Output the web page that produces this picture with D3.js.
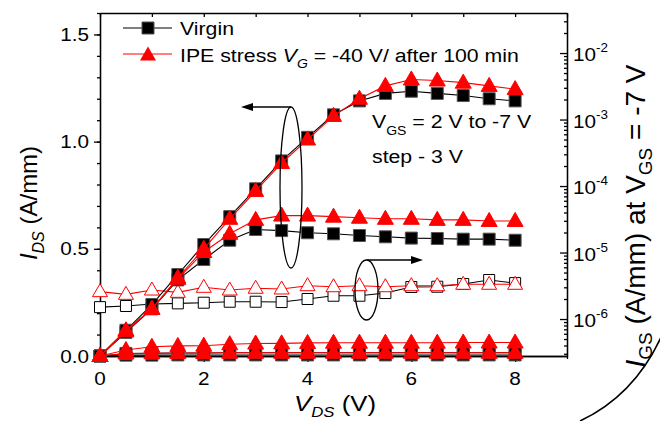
<!DOCTYPE html>
<html>
<head>
<meta charset="utf-8">
<script src="https://cdn.jsdelivr.net/npm/d3@7"></script>
<style>
body{margin:0;background:#fff;}
text{font-family:"Liberation Sans",Arial,sans-serif;fill:#000;}
</style>
</head>
<body>
<script>
var vds = [0,0.5,1,1.5,2,2.5,3,3.5,4,4.5,5,5.5,6,6.5,7,7.5,8];

// I_DS (A/mm) for V_GS = 2, -1, -4, -7 V
var virgin2  = [0,0.12,0.24,0.38,0.52,0.65,0.78,0.91,1.02,1.125,1.19,1.225,1.235,1.225,1.215,1.20,1.19];
var virginM1 = [0,0.11,0.22,0.355,0.45,0.54,0.59,0.585,0.575,0.57,0.562,0.556,0.55,0.548,0.545,0.545,0.54];
var virginM4 = [0,0.012,0.013,0.014,0.014,0.015,0.015,0.015,0.015,0.015,0.015,0.015,0.015,0.015,0.015,0.015,0.015];
var virginM7 = [0,0.004,0.004,0.005,0.005,0.005,0.005,0.005,0.005,0.005,0.005,0.005,0.005,0.005,0.005,0.005,0.005];
var ipe2  = [0,0.12,0.22,0.365,0.50,0.64,0.77,0.90,1.01,1.12,1.20,1.26,1.29,1.285,1.275,1.26,1.245];
var ipeM1 = [0,0.115,0.22,0.36,0.485,0.57,0.635,0.655,0.655,0.65,0.645,0.64,0.64,0.635,0.635,0.63,0.63];
var ipeM4 = [0,0.028,0.043,0.047,0.048,0.055,0.058,0.059,0.061,0.062,0.062,0.062,0.062,0.062,0.063,0.063,0.063];
var ipeM7 = [0,0.012,0.013,0.014,0.014,0.015,0.015,0.015,0.015,0.015,0.015,0.015,0.015,0.015,0.015,0.015,0.015];

// I_GS (A/mm) at V_GS = -7 V
var virginIgs = [1.51e-6,1.57e-6,1.68e-6,1.72e-6,1.76e-6,1.82e-6,1.82e-6,1.80e-6,2.0e-6,2.24e-6,2.24e-6,2.46e-6,3.03e-6,3.06e-6,3.36e-6,3.86e-6,3.47e-6];
var ipeIgs = [2.58e-6,2.35e-6,2.73e-6,2.52e-6,3.0e-6,2.73e-6,2.9e-6,2.83e-6,3.17e-6,3.06e-6,3.17e-6,3.06e-6,3.17e-6,3.17e-6,3.33e-6,3.33e-6,3.33e-6];

var leftTicks = [0,0.5,1.0,1.5];
var bottomTicks = [0,2,4,6,8];
var rightExp = [-6,-5,-4,-3,-2];

var width = 660, height = 421;
var sx = 1.12; // the text looks a bit wide in the picture

var x = d3.scaleLinear().domain([0,9]).range([100,567]);
var y = d3.scaleLinear().domain([0,1.6]).range([356,13]);
var yLog = d3.scaleLog().domain([2.78e-7,0.04]).range([356,13]);

var svg = d3.select("body").append("svg").attr("width",width).attr("height",height);

function htext(px, py, size, anchor){
  return svg.append("text")
    .attr("transform","translate("+px+","+py+") scale("+sx+",1)")
    .attr("font-size",size)
    .attr("text-anchor",anchor||"start");
}

// ---- axes ----
var minorY = d3.range(0,16).map(function(i){return i/10;}).concat([1.6]);
svg.append("g").attr("transform","translate(100,0)")
  .call(d3.axisLeft(y).tickValues(minorY).tickSize(3).tickSizeOuter(0).tickFormat(""));
svg.append("g").attr("transform","translate(100,0)")
  .call(d3.axisLeft(y).tickValues(leftTicks).tickSize(6).tickSizeOuter(0).tickFormat(""));

svg.append("g").attr("transform","translate(0,356)")
  .call(d3.axisBottom(x).tickValues([1,3,5,7,9]).tickSize(3).tickSizeOuter(0).tickFormat(""));
svg.append("g").attr("transform","translate(0,356)")
  .call(d3.axisBottom(x).tickValues(bottomTicks).tickSize(6).tickSizeOuter(0).tickFormat(""));

svg.append("g").attr("transform","translate(0,13)")
  .call(d3.axisTop(x).tickValues(d3.range(0,10)).tickSize(-4).tickSizeOuter(0).tickFormat(""));

var minorLog = [];
for (var e=-7;e<=-2;e++) for (var m=2;m<=9;m++){
  var v=m*Math.pow(10,e);
  if (v>2.78e-7 && v<0.04) minorLog.push(v);
}
svg.append("g").attr("transform","translate(567,0)")
  .call(d3.axisRight(yLog).tickValues(minorLog).tickSize(-3).tickSizeOuter(0).tickFormat(""));
svg.append("g").attr("transform","translate(567,0)")
  .call(d3.axisRight(yLog).tickValues(rightExp.map(function(e){return Math.pow(10,e);})).tickSize(-7).tickSizeOuter(0).tickFormat(""));

svg.selectAll(".domain, .tick line").attr("stroke","#000").attr("stroke-width",1.3);

// tick labels
leftTicks.forEach(function(t){
  htext(89, y(t)+6.5, 18.5, "end").text(d3.format(".1f")(t));
});
bottomTicks.forEach(function(t){
  htext(x(t), 385, 18.5, "middle").text(t);
});
rightExp.forEach(function(e){
  var t = htext(573, yLog(Math.pow(10,e))+8, 18.5, "start");
  t.append("tspan").text("10");
  t.append("tspan").attr("font-size",12).attr("dy",-9).text(e);
});

// axis titles
var bt = htext(335, 411, 23, "middle");
bt.append("tspan").attr("font-style","italic").text("V");
bt.append("tspan").attr("font-style","italic").attr("font-size",15).attr("dy",6).text("DS");
bt.append("tspan").attr("dy",-6).text(" (V)");

var lt = svg.append("text").attr("transform","translate(37,203) rotate(-90)")
  .attr("font-size",24).attr("text-anchor","middle");
lt.append("tspan").attr("font-style","italic").text("I");
lt.append("tspan").attr("font-style","italic").attr("font-size",16).attr("dy",7).text("DS");
lt.append("tspan").attr("dy",-7).text(" (A/mm)");

var rt = svg.append("text").attr("transform","translate(645,216) rotate(-90)")
  .attr("font-size",28).attr("text-anchor","middle");
rt.append("tspan").attr("font-style","italic").text("I");
rt.append("tspan").attr("font-size",19).attr("dy",7).text("GS");
rt.append("tspan").attr("dy",-7).text(" (A/mm) at V");
rt.append("tspan").attr("font-size",19).attr("dy",7).text("GS");
rt.append("tspan").attr("dy",-7).text(" = -7 V");

// ---- data ----
function pts(arr){ return vds.map(function(v,i){return [v,arr[i]];}); }
var lineL = d3.line().x(function(d){return x(d[0]);}).y(function(d){return y(d[1]);});
var lineR = d3.line().x(function(d){return x(d[0]);}).y(function(d){return yLog(d[1]);});

var sqPath = "M-6,-6H6V6H-6Z";
var triPath = "M0,-8.5L8,5.5L-8,5.5Z";
var openSq = "M-5.5,-5.5H5.5V5.5H-5.5Z";
var openTri = "M0,-8L7.5,5L-7.5,5Z";

function drawSeries(data, line, yf, color, shape, fill, stroke){
  var g = svg.append("g");
  g.append("path").attr("d",line(data)).attr("fill","none").attr("stroke",color).attr("stroke-width",1.1);
  g.selectAll("path.m").data(data).enter().append("path").attr("class","m")
    .attr("d",shape)
    .attr("transform",function(d){return "translate("+x(d[0])+","+yf(d[1])+")";})
    .attr("fill",fill).attr("stroke",stroke).attr("stroke-width",1);
}
var yfL = function(v){return y(v);};

// I_GS first (open symbols)
drawSeries(pts(virginIgs), lineR, yLog, "#000", openSq, "#fff", "#000");
drawSeries(pts(ipeIgs), lineR, yLog, "#ff0000", openTri, "#fff", "#ff0000");

[virginM7, virginM4, virginM1, virgin2].forEach(function(a){
  drawSeries(pts(a), lineL, yfL, "#000", sqPath, "#000", "#555");
});
[ipeM7, ipeM4, ipeM1, ipe2].forEach(function(a){
  drawSeries(pts(a), lineL, yfL, "#ff0000", triPath, "#ff0000", "#ff0000");
});

// ---- legend ----
svg.append("line").attr("x1",123).attr("x2",172).attr("y1",28).attr("y2",28).attr("stroke","#000").attr("stroke-width",1.1);
svg.append("path").attr("d",sqPath).attr("transform","translate(148,28)").attr("fill","#000").attr("stroke","#555");
htext(180, 35, 19).text("Virgin");
svg.append("line").attr("x1",123).attr("x2",172).attr("y1",54).attr("y2",54).attr("stroke","#ff0000").attr("stroke-width",1.1);
svg.append("path").attr("d",triPath).attr("transform","translate(148,55)").attr("fill","#ff0000");
var lg = htext(180, 62, 19);
lg.append("tspan").text("IPE stress ");
lg.append("tspan").attr("font-style","italic").text("V");
lg.append("tspan").attr("font-style","italic").attr("font-size",12.5).attr("dy",6).text("G");
lg.append("tspan").attr("dy",-6).text(" = -40 V/ after 100 min");

// ---- annotations ----
var a1 = htext(372, 128, 19);
a1.append("tspan").text("V");
a1.append("tspan").attr("font-size",12.5).attr("dy",7).text("GS");
a1.append("tspan").attr("dy",-7).text(" = 2 V to -7 V");
htext(372, 163, 19).text("step - 3 V");

svg.append("ellipse").attr("cx",291).attr("cy",187.5).attr("rx",11).attr("ry",80.5)
  .attr("fill","none").attr("stroke","#000").attr("stroke-width",1.3);
svg.append("line").attr("x1",250).attr("x2",291).attr("y1",107).attr("y2",107).attr("stroke","#000").attr("stroke-width",1.3);
svg.append("path").attr("d","M241,107L253,103L253,111Z").attr("fill","#000");

svg.append("ellipse").attr("cx",366.5).attr("cy",290).attr("rx",11.5).attr("ry",30)
  .attr("fill","none").attr("stroke","#000").attr("stroke-width",1.3);
svg.append("line").attr("x1",367).attr("x2",414).attr("y1",260).attr("y2",260).attr("stroke","#000").attr("stroke-width",1.3);
svg.append("path").attr("d","M423,260L411,256L411,264Z").attr("fill","#000");

svg.append("path").attr("d","M580,421Q635,395 662,335").attr("fill","none").attr("stroke","#000").attr("stroke-width",1.6);
</script>
</body>
</html>
